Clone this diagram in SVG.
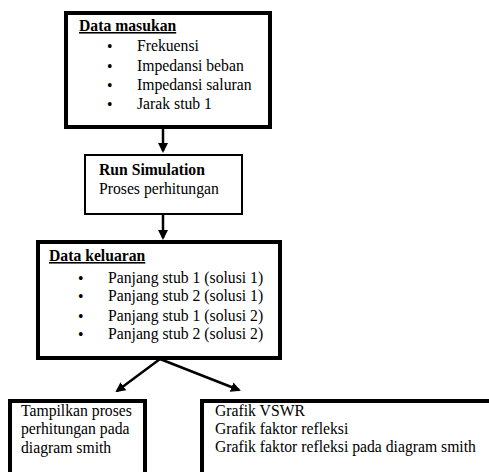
<svg xmlns="http://www.w3.org/2000/svg" width="489" height="472" viewBox="0 0 489 472">
<defs>
<marker id="ah" markerWidth="10" markerHeight="10" refX="8" refY="5" orient="auto" markerUnits="userSpaceOnUse">
<path d="M0,0 L10,5 L0,10 Z" fill="#000"/>
</marker>
<style>
text{font-family:"Liberation Serif","Times New Roman",serif;font-size:15.7px;fill:#000}
.b{font-weight:bold}
.u{text-decoration:underline}
.thick{fill:#fff;stroke:#000;stroke-width:4}
.thin{fill:#fff;stroke:#000;stroke-width:2}
.con{stroke:#000;stroke-width:2.5;fill:none}
</style>
</defs>
<rect width="489" height="472" fill="#fff"/>
<g id="connectors">
<line class="con" x1="163" y1="129" x2="163" y2="151" marker-end="url(#ah)"/>
<line class="con" x1="163" y1="215" x2="163" y2="238" marker-end="url(#ah)"/>
<line class="con" x1="160" y1="359" x2="117" y2="391" marker-end="url(#ah)"/>
<line class="con" x1="160" y1="359" x2="239" y2="390" marker-end="url(#ah)"/>
</g>
<g id="input">
<rect class="thick" x="66" y="13" width="204" height="114"/>
<text x="79" y="31" class="b u">Data masukan </text>
<text x="107" y="52">•</text><text x="137" y="51">Frekuensi</text>
<text x="107" y="72">•</text><text x="137" y="71">Impedansi beban</text>
<text x="107" y="91">•</text><text x="137" y="90">Impedansi saluran</text>
<text x="107" y="110">•</text><text x="137" y="109">Jarak stub 1</text>
</g>
<g id="simulation">
<rect class="thin" x="85" y="155" width="157" height="59"/>
<text x="99" y="175" class="b">Run Simulation</text>
<text x="99" y="194">Proses perhitungan</text>
</g>
<g id="output">
<rect class="thick" x="38" y="242" width="242" height="116"/>
<text x="49" y="261" class="b u">Data keluaran </text>
<text x="78" y="284">•</text><text x="108" y="283">Panjang stub 1 (solusi 1)</text>
<text x="78" y="302">•</text><text x="108" y="301">Panjang stub 2 (solusi 1)</text>
<text x="78" y="322">•</text><text x="108" y="321">Panjang stub 1 (solusi 2)</text>
<text x="78" y="340">•</text><text x="108" y="339">Panjang stub 2 (solusi 2)</text>
</g>
<g id="display">
<rect class="thick" x="10" y="401" width="135" height="80"/>
<text x="21" y="416">Tampilkan proses</text>
<text x="21" y="434">perhitungan pada</text>
<text x="21" y="453">diagram smith</text>
</g>
<g id="graphs">
<rect class="thick" x="202" y="401" width="290" height="80"/>
<text x="215" y="416">Grafik VSWR</text>
<text x="215" y="434">Grafik faktor refleksi</text>
<text x="215" y="452">Grafik faktor refleksi pada diagram smith</text>
</g>
</svg>
